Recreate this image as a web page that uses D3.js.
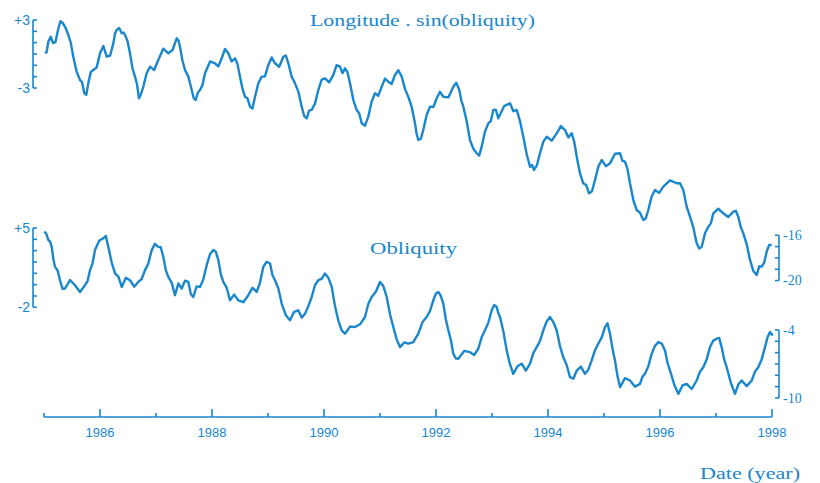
<!DOCTYPE html>
<html><head><meta charset="utf-8">
<script src="https://cdn.jsdelivr.net/npm/d3@7"></script>
<style>
html,body{margin:0;padding:0;background:#fff;}
svg{display:block;}
</style></head>
<body>
<svg id="chart" width="820" height="483"></svg>
<script>
// ---- Data ----
const lonYears = [1985.018,1985.047,1985.077,1985.119,1985.161,1985.205,1985.25,1985.294,1985.339,1985.386,1985.434,1985.478,1985.523,1985.583,1985.643,1985.68,1985.72,1985.755,1985.791,1985.835,1985.88,1985.94,1986.0,1986.06,1986.12,1986.18,1986.238,1986.268,1986.298,1986.343,1986.388,1986.417,1986.446,1986.49,1986.536,1986.58,1986.625,1986.66,1986.696,1986.735,1986.773,1986.833,1986.893,1986.967,1987.041,1987.13,1987.22,1987.295,1987.37,1987.4,1987.429,1987.473,1987.518,1987.578,1987.638,1987.673,1987.709,1987.748,1987.786,1987.83,1987.875,1987.965,1988.054,1988.113,1988.173,1988.232,1988.291,1988.351,1988.411,1988.455,1988.5,1988.545,1988.589,1988.634,1988.679,1988.723,1988.768,1988.828,1988.888,1988.946,1989.005,1989.065,1989.125,1989.2,1989.273,1989.318,1989.363,1989.422,1989.482,1989.542,1989.602,1989.646,1989.691,1989.735,1989.78,1989.84,1989.898,1989.958,1990.018,1990.092,1990.166,1990.226,1990.286,1990.33,1990.375,1990.42,1990.464,1990.524,1990.584,1990.628,1990.673,1990.732,1990.791,1990.851,1990.911,1990.97,1991.03,1991.089,1991.148,1991.208,1991.268,1991.328,1991.388,1991.446,1991.505,1991.565,1991.625,1991.655,1991.684,1991.728,1991.773,1991.833,1991.893,1991.953,1992.013,1992.071,1992.13,1992.22,1992.309,1992.362,1992.416,1992.452,1992.488,1992.547,1992.607,1992.667,1992.727,1992.771,1992.816,1992.875,1992.934,1992.978,1993.023,1993.068,1993.113,1993.217,1993.321,1993.381,1993.441,1993.5,1993.559,1993.619,1993.679,1993.715,1993.75,1993.803,1993.857,1993.917,1993.977,1994.066,1994.155,1994.23,1994.304,1994.364,1994.423,1994.468,1994.513,1994.572,1994.63,1994.681,1994.732,1994.786,1994.839,1994.899,1994.959,1995.033,1995.107,1995.197,1995.286,1995.33,1995.375,1995.42,1995.464,1995.524,1995.584,1995.643,1995.702,1995.746,1995.791,1995.851,1995.911,1995.985,1996.059,1996.179,1996.298,1996.357,1996.416,1996.476,1996.536,1996.596,1996.655,1996.7,1996.745,1996.804,1996.863,1996.908,1996.952,1997.041,1997.13,1997.22,1997.309,1997.354,1997.398,1997.443,1997.488,1997.548,1997.607,1997.667,1997.727,1997.772,1997.816,1997.861,1997.905,1997.95,1997.995];
const lonValues = [0.06,0.17,1.08,1.53,0.97,1.05,2.12,2.9,2.71,2.3,1.68,1.0,-0.24,-1.57,-2.30,-2.5,-3.47,-3.6,-2.59,-1.6,-1.41,-1.2,0.06,0.7,-0.24,-0.15,0.94,1.8,2.12,2.3,1.83,1.9,1.68,1.17,0.06,-1.27,-2.0,-2.65,-3.91,-3.5,-2.89,-1.7,-1.12,-1.42,-0.53,0.47,0.06,0.35,1.38,1.2,0.64,-0.6,-1.41,-2.0,-3.18,-3.9,-4.06,-3.4,-3.18,-2.74,-1.70,-0.66,-0.82,-1.1,-0.38,0.44,0.06,-0.66,-0.38,-0.89,-2.0,-3.08,-3.77,-3.91,-4.65,-4.81,-3.77,-2.58,-2.0,-1.98,-0.97,-0.3,-0.82,-1.13,-0.24,-0.13,-0.82,-2.0,-2.59,-3.32,-4.65,-5.47,-5.68,-5.0,-4.94,-4.36,-3.18,-2.27,-2.15,-2.5,-1.85,-0.99,-1.12,-1.69,-1.26,-1.63,-2.59,-4.07,-4.94,-5.23,-6.12,-6.33,-5.53,-4.2,-3.47,-3.68,-2.89,-2.17,-2.45,-2.65,-1.85,-1.43,-2.0,-3.08,-3.77,-4.65,-6.12,-7.06,-7.59,-7.5,-6.71,-5.38,-4.65,-4.68,-3.91,-3.34,-3.77,-3.83,-2.89,-2.53,-3.18,-4.11,-4.65,-5.92,-7.59,-8.37,-8.76,-8.97,-8.18,-6.85,-6.12,-5.93,-4.94,-4.91,-5.68,-4.6,-4.35,-5.05,-4.94,-5.92,-7.30,-8.83,-9.95,-9.8,-10.24,-9.8,-8.76,-7.73,-7.30,-7.65,-7.0,-6.36,-6.71,-7.36,-7.0,-7.73,-9.07,-10.54,-11.41,-11.56,-12.30,-12.11,-11.12,-9.94,-9.36,-9.9,-9.65,-8.8,-8.76,-9.43,-9.51,-10.16,-11.41,-12.89,-13.77,-14.01,-14.65,-14.51,-13.77,-12.58,-12.0,-12.26,-11.71,-11.16,-11.41,-11.4,-12.0,-13.48,-14.36,-15.33,-16.71,-17.16,-17.01,-15.82,-15.24,-14.95,-14.06,-13.66,-14.06,-14.39,-13.92,-13.84,-14.36,-15.3,-15.83,-16.8,-18.18,-19.15,-19.51,-18.74,-18.77,-18.41,-17.45,-16.85,-16.86];

const oblYears = [1985.005,1985.041,1985.077,1985.108,1985.138,1985.167,1985.196,1985.241,1985.286,1985.331,1985.375,1985.465,1985.554,1985.643,1985.732,1985.777,1985.821,1985.866,1985.911,1985.985,1986.059,1986.104,1986.148,1986.208,1986.268,1986.328,1986.388,1986.462,1986.536,1986.61,1986.684,1986.744,1986.804,1986.863,1986.923,1986.982,1987.041,1987.085,1987.13,1987.175,1987.22,1987.28,1987.339,1987.399,1987.459,1987.518,1987.577,1987.622,1987.666,1987.726,1987.786,1987.845,1987.905,1987.964,1988.023,1988.068,1988.113,1988.158,1988.202,1988.262,1988.321,1988.395,1988.47,1988.559,1988.648,1988.723,1988.798,1988.857,1988.916,1988.976,1989.036,1989.08,1989.125,1989.185,1989.245,1989.319,1989.393,1989.467,1989.541,1989.601,1989.661,1989.72,1989.78,1989.839,1989.898,1989.958,1990.018,1990.078,1990.138,1990.196,1990.255,1990.315,1990.375,1990.465,1990.554,1990.643,1990.732,1990.792,1990.852,1990.926,1991.0,1991.06,1991.12,1991.179,1991.238,1991.298,1991.357,1991.431,1991.505,1991.595,1991.684,1991.759,1991.834,1991.893,1991.952,1991.997,1992.041,1992.086,1992.13,1992.175,1992.22,1992.265,1992.309,1992.354,1992.398,1992.503,1992.607,1992.681,1992.755,1992.815,1992.875,1992.935,1992.995,1993.04,1993.084,1993.113,1993.143,1993.203,1993.263,1993.322,1993.38,1993.455,1993.53,1993.605,1993.679,1993.738,1993.798,1993.857,1993.916,1993.976,1994.036,1994.095,1994.155,1994.214,1994.273,1994.333,1994.393,1994.453,1994.513,1994.587,1994.661,1994.72,1994.78,1994.839,1994.898,1994.958,1995.018,1995.062,1995.107,1995.151,1995.196,1995.241,1995.286,1995.375,1995.464,1995.553,1995.643,1995.687,1995.732,1995.792,1995.852,1995.911,1995.97,1996.03,1996.089,1996.134,1996.179,1996.253,1996.327,1996.402,1996.477,1996.566,1996.655,1996.714,1996.773,1996.833,1996.893,1996.952,1997.012,1997.056,1997.101,1997.146,1997.191,1997.265,1997.339,1997.399,1997.459,1997.548,1997.638,1997.696,1997.755,1997.815,1997.875,1997.92,1997.964,1998.013];
const oblValues = [4.67,4.5,3.94,3.8,3.34,2.26,1.57,1.28,0.39,-0.37,-0.34,0.4,-0.05,-0.65,-0.05,0.3,1.28,1.87,3.05,3.87,4.09,4.3,3.34,1.97,0.99,0.7,-0.20,0.6,0.39,-0.18,0.24,0.5,1.28,1.87,3.05,3.6,3.34,3.3,2.46,1.28,0.69,0.18,-0.93,0.1,-0.34,0.35,0.24,-0.83,-1.09,-0.15,-0.20,0.46,1.72,2.69,3.05,2.91,2.17,0.9,0.24,-0.27,-1.38,-0.88,-1.38,-1.55,-0.93,-0.28,-0.64,0.16,1.57,2.02,1.87,0.83,0.39,-0.34,-1.67,-2.71,-3.15,-2.4,-2.26,-2.91,-2.56,-1.9,-1.09,-0.05,0.39,0.5,0.99,0.6,-0.20,-1.88,-3.15,-4.04,-4.33,-3.7,-3.74,-3.5,-2.86,-1.68,-1.09,-0.63,0.24,-0.13,-1.09,-2.62,-3.74,-4.83,-5.51,-5.1,-5.21,-5.07,-4.33,-3.3,-2.86,-2.32,-1.38,-0.8,-0.64,-1.0,-1.67,-3.05,-4.03,-4.87,-6.10,-6.5,-6.54,-5.85,-5.96,-6.21,-5.66,-4.65,-4.03,-3.35,-2.26,-1.8,-1.97,-2.52,-2.86,-4.14,-5.81,-7.04,-7.87,-7.2,-6.98,-7.58,-6.98,-6.05,-5.51,-4.97,-4.03,-3.25,-2.86,-3.3,-4.03,-5.42,-6.40,-7.09,-8.17,-8.3,-7.58,-7.23,-7.87,-7.5,-6.69,-5.8,-5.21,-4.68,-3.74,-3.4,-4.33,-5.61,-6.69,-8.07,-9.04,-8.25,-8.46,-9.0,-8.76,-8.12,-7.87,-7.19,-6.10,-5.39,-5.07,-5.2,-5.81,-6.9,-7.58,-8.81,-9.64,-8.9,-8.76,-9.21,-8.46,-7.68,-7.29,-6.6,-5.51,-4.94,-4.77,-4.7,-5.51,-6.6,-7.29,-8.67,-9.64,-8.8,-8.46,-8.96,-8.46,-7.68,-7.29,-6.6,-5.51,-4.65,-4.19,-4.48];

const xMajorTicks = [1986,1988,1990,1992,1994,1996,1998];
const xMinorTicks = [1985,1987,1989,1991,1993,1995,1997];
const lonLeftTicks = [3,2,1,0,-1,-2,-3];
const lonLeftLabels = ["+3","-3"];
const lonRightTicks = [-16,-17,-18,-19,-20];
const lonRightLabels = ["-16","-20"];
const oblLeftTicks = [5,4,3,2,1,0,-1,-2];
const oblLeftLabels = ["+5","-2"];
const oblRightTicks = [-4,-5,-6,-7,-8,-9,-10];
const oblRightLabels = ["-4","-10"];
const titles = {lon:"Longitude . sin(obliquity)", obl:"Obliquity", x:"Date (year)"};

// ---- Drawing ----
const C = "#1a86cc";
const svg = d3.select("#chart");
const x = d3.scaleLinear().domain([1985, 1998]).range([44, 772]);
const yLon = d3.scaleLinear().domain([3, -20]).range([20, 20 + 23 * 11.33]);
const yObl = d3.scaleLinear().domain([5, -10]).range([228, 228 + 15 * 11.33]);

function series(years, vals, y) {
  const n = Math.min(years.length, vals.length);
  const pts = d3.range(n).map(i => [years[i], vals[i]]);
  svg.append("path")
    .attr("d", d3.line().x(d => x(d[0])).y(d => y(d[1]))(pts))
    .attr("fill", "none").attr("stroke", C).attr("stroke-width", 2.4)
    .attr("stroke-linejoin", "round");
}
series(lonYears, lonValues, yLon);
series(oblYears, oblValues, yObl);

function bracket(y, ticks, labels, side, fontFam) {
  const ext = d3.extent(ticks.map(y));
  const xl = side === "left" ? 33 : 779;
  const dir = side === "left" ? 1 : -1;
  const g = svg.append("g").attr("stroke", C).attr("stroke-width", 1.6);
  g.append("line").attr("x1", xl).attr("x2", xl).attr("y1", ext[0]).attr("y2", ext[1]);
  ticks.forEach(t => {
    g.append("line").attr("x1", xl).attr("x2", xl + dir * 4).attr("y1", y(t)).attr("y2", y(t));
  });
  const lt = [ticks[0], ticks[ticks.length - 1]];
  lt.forEach((t, i) => {
    svg.append("text")
      .attr("x", side === "left" ? xl - 3 : xl + 4)
      .attr("y", y(t))
      .attr("dy", "0.35em")
      .attr("text-anchor", side === "left" ? "end" : "start")
      .attr("font-family", fontFam)
      .attr("font-size", 14)
      .attr("fill", C)
      .text(labels[i]);
  });
}
bracket(yLon, lonLeftTicks, lonLeftLabels, "left", "Liberation Sans, Arial, sans-serif");
bracket(yObl, oblLeftTicks, oblLeftLabels, "left", "Liberation Sans, Arial, sans-serif");
bracket(yLon, lonRightTicks, lonRightLabels, "right", "Liberation Serif, serif");
bracket(yObl, oblRightTicks, oblRightLabels, "right", "Liberation Serif, serif");

// x axis
const xAxisY = 417;
const gx = svg.append("g").attr("stroke", C).attr("stroke-width", 1.6);
gx.append("line").attr("x1", x(1985)).attr("x2", x(1998)).attr("y1", xAxisY).attr("y2", xAxisY);
xMajorTicks.forEach(t => gx.append("line").attr("x1", x(t)).attr("x2", x(t)).attr("y1", xAxisY).attr("y2", xAxisY - 8));
xMinorTicks.forEach(t => gx.append("line").attr("x1", x(t)).attr("x2", x(t)).attr("y1", xAxisY).attr("y2", xAxisY - 4));
xMajorTicks.forEach(t => svg.append("text")
  .attr("x", x(t)).attr("y", 437).attr("text-anchor", "middle")
  .attr("font-family", "Liberation Sans, Arial, sans-serif").attr("font-size", 13)
  .attr("fill", C).text(t));

// titles
function title(txt, x0, y0, len) {
  svg.append("text").attr("x", x0).attr("y", y0).attr("textLength", len)
    .attr("lengthAdjust", "spacingAndGlyphs")
    .attr("font-family", "Liberation Serif, serif").attr("font-size", 17)
    .attr("fill", C).text(txt);
}
title(titles.lon, 310, 26, 225);
title(titles.obl, 370, 254, 87);
title(titles.x, 700, 479, 100);
</script>
</body></html>
